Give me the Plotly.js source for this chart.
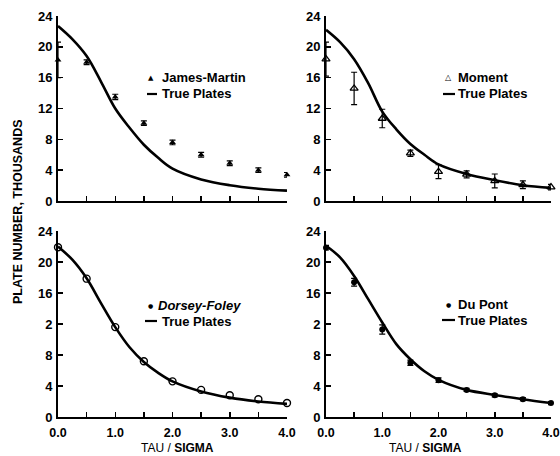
<!DOCTYPE html>
<html><head><meta charset="utf-8">
<script src="https://cdn.plot.ly/plotly-3.0.1.min.js"></script>
<style>html,body{margin:0;padding:0;background:#fff}#chart{width:560px;height:456px}</style>
</head><body><div id="chart"></div>
<script>
// ---- data ----
const tauSigma = [0, 0.5, 1, 1.5, 2, 2.5, 3, 3.5, 4];
const curveTau = [0, 0.25, 0.5, 0.75, 1, 1.25, 1.5, 1.75, 2, 2.5, 3, 3.5, 4];

const jamesMartin    = [18.3, 18.0, 13.5, 10.1, 7.6, 6.0, 4.9, 4.0, 3.4];
const jamesMartinErr = [2.3, 0.3, 0.35, 0.3, 0.3, 0.3, 0.3, 0.3, 0.3];
const truePlatesJM   = [22.7, 21.0, 18.8, 15.5, 12.0, 9.5, 7.3, 5.6, 4.2, 2.8, 2.05, 1.6, 1.35];

const moment         = [18.4, 14.6, 10.7, 6.2, 3.8, 3.45, 2.6, 2.1, 1.8];
const momentErr      = [2.2, 2.1, 1.2, 0.4, 0.9, 0.45, 0.9, 0.5, 0.35];
const truePlatesMo   = [22.2, 20.6, 18.4, 15.3, 11.6, 9.3, 7.4, 6.0, 4.75, 3.5, 2.7, 2.05, 1.7];

const dorseyFoley    = [21.9, 17.85, 11.6, 7.2, 4.6, 3.5, 2.8, 2.3, 1.8];
const truePlatesDF   = [22.0, 20.3, 17.9, 14.7, 11.6, 9.0, 7.1, 5.7, 4.6, 3.3, 2.5, 2.0, 1.7];

const duPont         = [21.85, 17.4, 11.3, 7.0, 4.75, 3.5, 2.8, 2.3, 1.8];
const duPontErr      = [0.3, 0.5, 0.6, 0.35, 0.3, 0.2, 0.2, 0.2, 0.2];
const truePlatesDP   = [22.1, 20.6, 18.2, 15.2, 12.2, 9.4, 7.45, 5.9, 4.8, 3.5, 2.85, 2.3, 1.8];

const yTicks         = [0, 4, 8, 12, 16, 20, 24];
const yTickTextTop   = ['0', '4', '8', '12', '16', '20', '24'];
const yTickTextBot   = ['0', '4', '8', '2', '16', '20', '24'];
const xTicks         = [0, 0.5, 1, 1.5, 2, 2.5, 3, 3.5, 4];
const xTickText      = ['0.0', '', '1.0', '', '2.0', '', '3.0', '', '4.0'];
const xTickBlank     = ['', '', '', '', '', '', '', '', ''];

// ---- styles ----
const FONT = 'Liberation Sans, Arial, Helvetica, sans-serif';
const BLACK = '#000';

function pointTrace(y, err, sym, size, xa, ya, lw) {
  const t = {
    x: tauSigma, y: y, xaxis: xa, yaxis: ya, type: 'scatter', mode: 'markers',
    cliponaxis: false, showlegend: false, hoverinfo: 'skip',
    marker: {symbol: sym, size: size, color: BLACK, line: {color: BLACK, width: lw || 0}}
  };
  if (err) t.error_y = {type: 'data', array: err, visible: true, color: BLACK, thickness: 1.2, width: 3};
  return t;
}
function lineTrace(y, xa, ya) {
  return {
    x: curveTau, y: y, xaxis: xa, yaxis: ya, type: 'scatter', mode: 'lines',
    cliponaxis: false, showlegend: false, hoverinfo: 'skip',
    line: {color: BLACK, width: 2.6, shape: 'spline', smoothing: 1}
  };
}

const data = [
  lineTrace(truePlatesJM, 'x', 'y'),
  pointTrace(jamesMartin, jamesMartinErr, 'triangle-up', 6, 'x', 'y'),
  lineTrace(truePlatesMo, 'x2', 'y2'),
  pointTrace(moment, momentErr, 'triangle-up-open', 7, 'x2', 'y2', 1.3),
  lineTrace(truePlatesDF, 'x3', 'y3'),
  pointTrace(dorseyFoley, null, 'circle-open', 7, 'x3', 'y3', 1.4),
  lineTrace(truePlatesDP, 'x4', 'y4'),
  pointTrace(duPont, duPontErr, 'circle', 6, 'x4', 'y4')
];

const W = 560, H = 456;
const px = v => v / W, py = v => 1 - v / H;

function xAx(dom, anchor, text) {
  return {
    domain: dom, anchor: anchor, range: [0, 4], showgrid: false, zeroline: false,
    showline: true, linecolor: BLACK, linewidth: 2,
    ticks: 'inside', ticklen: 5, tickwidth: 1.5, tickcolor: BLACK,
    tickvals: xTicks, ticktext: text, ticklabelstandoff: 3, ticklabeloverflow: 'allow',
    tickfont: {family: FONT, size: 12.5, color: BLACK, weight: 'bold'}, fixedrange: true
  };
}
function yAx(dom, anchor, text) {
  return {
    domain: dom, anchor: anchor, range: [0, 24], showgrid: false, zeroline: false,
    showline: true, linecolor: BLACK, linewidth: 2,
    ticks: 'inside', ticklen: 5, tickwidth: 1.5, tickcolor: BLACK,
    tickvals: yTicks, ticktext: text, ticklabelstandoff: 1,
    tickfont: {family: FONT, size: 13, color: BLACK, weight: 'bold'}, fixedrange: true
  };
}

const xL = [px(58), px(287)], xR = [px(326), px(551)];
const yT = [py(201), py(16)], yB = [py(417), py(231)];

function legText(x, y, txt, italic) {
  return {xref: 'paper', yref: 'paper', x: px(x), y: py(y), xanchor: 'left', yanchor: 'middle',
    text: txt, showarrow: false,
    font: {family: FONT, size: 13, color: BLACK, weight: 'bold', style: italic ? 'italic' : 'normal'}};
}
function legGlyph(x, y, g, size) {
  return {xref: 'paper', yref: 'paper', x: px(x), y: py(y), xanchor: 'center', yanchor: 'middle',
    text: g, showarrow: false, font: {family: 'DejaVu Sans, sans-serif', size: size, color: BLACK}};
}
function legLine(x0, x1, y) {
  return {type: 'line', xref: 'paper', yref: 'paper', x0: px(x0), x1: px(x1), y0: py(y), y1: py(y),
    line: {color: BLACK, width: 2.2}};
}

const layout = {
  width: W, height: H, margin: {l: 0, r: 0, t: 0, b: 0},
  paper_bgcolor: '#fff', plot_bgcolor: '#fff', showlegend: false,
  xaxis: xAx(xL, 'y', xTickBlank),  yaxis: yAx(yT, 'x', yTickTextTop),
  xaxis2: xAx(xR, 'y2', xTickBlank), yaxis2: yAx(yT, 'x2', yTickTextTop),
  xaxis3: xAx(xL, 'y3', xTickText),  yaxis3: yAx(yB, 'x3', yTickTextBot),
  xaxis4: xAx(xR, 'y4', xTickText),  yaxis4: yAx(yB, 'x4', yTickTextBot),
  annotations: [
    legGlyph(151, 78, '▲', 7), legText(160, 78, 'James-Martin'), legText(160, 94, 'True Plates'),
    legGlyph(448, 77, '△', 8), legText(456, 77, 'Moment'), legText(456, 94, 'True Plates'),
    legGlyph(150, 305, '●', 6), legText(156, 305, 'Dorsey-Foley', true), legText(160, 321, 'True Plates'),
    legGlyph(448, 304, '●', 6), legText(456, 304, 'Du Pont'), legText(456, 320, 'True Plates'),
    {xref: 'paper', yref: 'paper', x: px(177), y: py(448), xanchor: 'center', yanchor: 'middle',
     text: 'TAU / <b>SIGMA</b>', showarrow: false, font: {family: FONT, size: 12, color: BLACK}},
    {xref: 'paper', yref: 'paper', x: px(425), y: py(448), xanchor: 'center', yanchor: 'middle',
     text: 'TAU / <b>SIGMA</b>', showarrow: false, font: {family: FONT, size: 12, color: BLACK}},
    {xref: 'paper', yref: 'paper', x: px(18), y: py(212), xanchor: 'center', yanchor: 'middle',
     text: 'PLATE NUMBER, THOUSANDS', textangle: -90, showarrow: false,
     font: {family: FONT, size: 12.5, color: BLACK, weight: 'bold'}}
  ],
  shapes: [
    legLine(147, 157, 94), legLine(443, 455, 94), legLine(145, 157, 321), legLine(442, 455, 320)
  ]
};

Plotly.newPlot('chart', data, layout, {staticPlot: true, displayModeBar: false});
</script>
</body></html>
